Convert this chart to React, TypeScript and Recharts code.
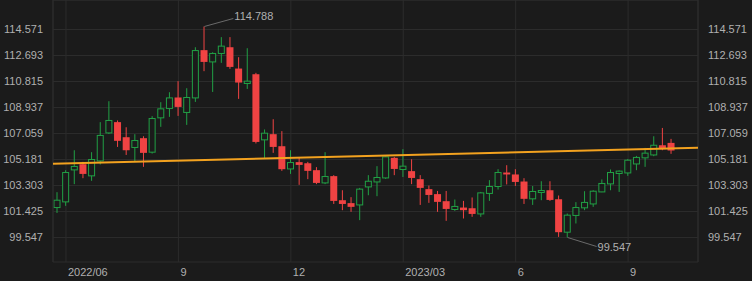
import React from 'react';
import { ComposedChart, Bar, XAxis, YAxis, CartesianGrid, ReferenceLine, ReferenceDot } from 'recharts';

const weeks = [
  '2022-05-27', '2022-06-03', '2022-06-10', '2022-06-17', '2022-06-24', '2022-07-01', '2022-07-08', '2022-07-15',
  '2022-07-22', '2022-07-29', '2022-08-05', '2022-08-12', '2022-08-19', '2022-08-26', '2022-09-02', '2022-09-09',
  '2022-09-16', '2022-09-23', '2022-09-30', '2022-10-07', '2022-10-14', '2022-10-21', '2022-10-28', '2022-11-04',
  '2022-11-11', '2022-11-18', '2022-11-25', '2022-12-02', '2022-12-09', '2022-12-16', '2022-12-23', '2022-12-30',
  '2023-01-06', '2023-01-13', '2023-01-20', '2023-01-27', '2023-02-03', '2023-02-10', '2023-02-17', '2023-02-24',
  '2023-03-03', '2023-03-10', '2023-03-17', '2023-03-24', '2023-03-31', '2023-04-07', '2023-04-14', '2023-04-21',
  '2023-04-28', '2023-05-05', '2023-05-12', '2023-05-19', '2023-05-26', '2023-06-02', '2023-06-09', '2023-06-16',
  '2023-06-23', '2023-06-30', '2023-07-07', '2023-07-14', '2023-07-21', '2023-07-28', '2023-08-04', '2023-08-11',
  '2023-08-18', '2023-08-25', '2023-09-01', '2023-09-08', '2023-09-15', '2023-09-22', '2023-09-29', '2023-10-06',
];

const opens = [
  101.71, 102.12, 104.43, 104.84, 104.00, 105.08, 107.10, 107.88, 106.79, 106.05, 106.72, 105.71,
  108.19, 108.87, 109.66, 108.58, 109.63, 113.08, 112.23, 112.84, 113.29, 111.75, 110.67, 111.34,
  106.60, 107.01, 106.14, 104.50, 104.99, 104.91, 104.41, 103.49, 103.98, 102.24, 102.03, 101.90,
  103.20, 103.56, 103.85, 105.30, 104.46, 104.34, 103.76, 103.04, 102.68, 102.17, 101.57, 101.71,
  101.66, 101.25, 102.73, 103.23, 104.24, 104.10, 103.59, 102.34, 102.80, 102.96, 102.31, 99.93,
  101.14, 101.69, 101.97, 102.84, 103.42, 104.17, 104.21, 104.86, 105.30, 105.51, 106.21, 106.38,
];
const highs = [
  102.82, 104.41, 105.85, 105.01, 105.71, 107.88, 109.39, 108.00, 107.51, 107.01, 106.86, 108.31,
  109.32, 110.04, 110.84, 110.33, 113.29, 114.788, 112.93, 114.02, 114.02, 112.57, 113.22, 111.44,
  107.35, 108.09, 107.23, 105.85, 105.30, 105.01, 104.63, 105.71, 104.05, 102.96, 102.46, 103.13,
  104.05, 104.70, 105.42, 105.37, 105.93, 105.20, 104.05, 103.30, 102.91, 102.91, 102.29, 102.19,
  102.44, 102.84, 103.69, 104.48, 104.77, 104.48, 103.83, 103.27, 103.61, 103.61, 102.58, 101.28,
  102.10, 102.89, 102.96, 103.74, 104.46, 104.39, 105.22, 105.44, 106.02, 106.86, 107.46, 106.67,
];
const lows = [
  101.32, 101.83, 103.40, 103.83, 103.64, 104.82, 107.03, 106.09, 105.51, 105.01, 104.65, 105.61,
  107.54, 108.26, 108.33, 107.68, 109.34, 111.56, 110.06, 112.16, 111.73, 109.56, 110.28, 106.34,
  105.25, 105.66, 104.36, 104.14, 103.35, 103.76, 103.40, 103.40, 101.97, 101.52, 101.40, 100.80,
  102.60, 102.53, 103.78, 104.05, 103.92, 103.40, 101.90, 102.05, 101.40, 100.75, 101.47, 100.92,
  101.04, 101.04, 102.19, 103.01, 103.38, 103.27, 101.97, 101.90, 102.24, 102.19, 99.59, 99.547,
  100.56, 101.52, 101.76, 102.82, 102.96, 102.84, 104.00, 104.41, 104.65, 105.42, 105.85, 105.59,
];
const closes = [
  102.24, 104.24, 104.68, 104.14, 105.18, 106.92, 108.00, 106.53, 105.85, 106.55, 105.66, 108.14,
  108.84, 109.63, 108.98, 109.66, 113.05, 112.23, 112.84, 113.37, 111.87, 110.74, 110.84, 106.45,
  107.08, 106.09, 104.48, 104.96, 104.79, 104.36, 103.49, 103.95, 102.19, 101.97, 101.76, 103.04,
  103.61, 103.88, 105.37, 104.50, 104.70, 103.85, 103.13, 102.62, 102.12, 101.61, 101.79, 101.52,
  101.25, 102.77, 103.23, 104.24, 104.10, 103.56, 102.34, 102.87, 102.94, 102.26, 99.93, 101.16,
  101.71, 102.08, 102.89, 103.45, 104.24, 104.34, 105.13, 105.33, 105.64, 106.21, 105.93, 105.83,
];

const yTicks = [99.547, 101.425, 103.303, 105.181, 107.059, 108.937, 110.815, 112.693, 114.571];
const xTickIndex = [1, 14, 27, 40, 53, 66];
const xTickLabels = ['2022/06', '9', '12', '2023/03', '6', '9'];
const trendStart = 104.87;
const trendEnd = 106.03;

const BG = '#1b1b1b';
const GRID = '#2c2c2c';
const TEXT = '#b0b0b0';
const GREEN = '#21a045';
const RED = '#f04343';
const ORANGE = '#f3a21f';
const FONT = '"Liberation Sans", Arial, sans-serif';

const X_MIN = -0.5;
const X_MAX = 74.08;
const Y_MIN = 97.777;
const Y_MAX = 116.702;

const data = weeks.map((w, i) => ({
  i,
  week: w,
  open: opens[i],
  high: highs[i],
  low: lows[i],
  close: closes[i],
}));

let maxIdx = 0;
let minIdx = 0;
highs.forEach((h, i) => { if (h > highs[maxIdx]) maxIdx = i; });
lows.forEach((l, i) => { if (l < lows[minIdx]) minIdx = i; });

const Candle = (props: any) => {
  const { x, y, width, height, payload } = props;
  if (x == null || y == null || !payload) return <g />;
  const { open, close, high, low } = payload;
  const up = close >= open;
  const color = up ? GREEN : RED;
  const span = high - low;
  const ratio = span > 0 ? height / span : 0;
  const yOf = (v: number) => y + (high - v) * ratio;
  const cx = x + width / 2;
  const bodyW = 7;
  const top = yOf(Math.max(open, close));
  const bot = yOf(Math.min(open, close));
  const bh = Math.max(bot - top, 1);
  return (
    <g>
      <line x1={cx} x2={cx} y1={y} y2={y + height} stroke={color} strokeWidth={1} />
      {up ? (
        <rect x={cx - bodyW / 2 + 0.5} y={top} width={bodyW - 1} height={Math.max(bh, 1)} fill={BG} stroke={color} strokeWidth={1} />
      ) : (
        <rect x={cx - bodyW / 2} y={top} width={bodyW} height={bh} fill={color} stroke="none" />
      )}
    </g>
  );
};

const XTick = (p: any) => {
  const idx = xTickIndex.indexOf(p.payload.value);
  return (
    <text x={p.x + 2} y={p.y + 14} fill={TEXT} fontSize={11} fontFamily={FONT} textAnchor="start">
      {idx >= 0 ? xTickLabels[idx] : ''}
    </text>
  );
};

const MaxMark = (p: any) => (
  <g>
    <line x1={p.cx} y1={p.cy} x2={p.cx + 29} y2={p.cy - 8} stroke="#6a6a6a" strokeWidth={1} />
    <text x={p.cx + 30} y={p.cy - 6} fill={TEXT} fontSize={11} fontFamily={FONT}>
      {highs[maxIdx].toFixed(3)}
    </text>
  </g>
);

const MinMark = (p: any) => (
  <g>
    <line x1={p.cx} y1={p.cy} x2={p.cx + 29} y2={p.cy + 9} stroke="#6a6a6a" strokeWidth={1} />
    <text x={p.cx + 30} y={p.cy + 14} fill={TEXT} fontSize={11} fontFamily={FONT}>
      {lows[minIdx].toFixed(3)}
    </text>
  </g>
);

export default function App() {
  return (
    <div style={{ position: 'absolute', left: 0, top: 0, width: 752, height: 281, background: BG }}>
      <ComposedChart width={752} height={281} data={data} margin={{ top: 0, right: 0, bottom: 0, left: 0 }}>
        <CartesianGrid stroke={GRID} strokeWidth={1} />
        <XAxis
          dataKey="i"
          type="number"
          domain={[X_MIN, X_MAX]}
          allowDataOverflow
          ticks={xTickIndex}
          interval={0}
          axisLine={false}
          tickLine={false}
          tickSize={0}
          tickMargin={0}
          height={19}
          tick={<XTick />}
        />
        <YAxis
          yAxisId={0}
          orientation="left"
          width={53}
          domain={[Y_MIN, Y_MAX]}
          allowDataOverflow
          ticks={yTicks}
          interval={0}
          axisLine={false}
          tickLine={false}
          tickSize={0}
          tickMargin={10}
          tick={{ fill: TEXT, fontSize: 11, fontFamily: FONT }}
          tickFormatter={(v: number) => v.toFixed(3)}
        />
        <YAxis
          yAxisId="right"
          orientation="right"
          width={54}
          domain={[Y_MIN, Y_MAX]}
          allowDataOverflow
          ticks={yTicks}
          interval={0}
          axisLine={false}
          tickLine={false}
          tickSize={0}
          tickMargin={10}
          tick={{ fill: TEXT, fontSize: 11, fontFamily: FONT }}
          tickFormatter={(v: number) => v.toFixed(3)}
        />
        <ReferenceLine x={X_MIN} stroke={GRID} ifOverflow="visible" />
        <ReferenceLine x={X_MAX} stroke={GRID} ifOverflow="visible" />
        <ReferenceLine y={Y_MAX} stroke={GRID} ifOverflow="visible" />
        <Bar
          dataKey={(d: any) => [d.low, d.high]}
          shape={(p: any) => <Candle {...p} />}
          barSize={8}
          isAnimationActive={false}
        />
        <ReferenceLine
          segment={[{ x: X_MIN, y: trendStart }, { x: X_MAX, y: trendEnd }]}
          stroke={ORANGE}
          strokeWidth={2}
          ifOverflow="visible"
        />
        <ReferenceDot x={maxIdx} y={highs[maxIdx]} r={0} shape={(p: any) => <MaxMark {...p} />} ifOverflow="visible" />
        <ReferenceDot x={minIdx} y={lows[minIdx]} r={0} shape={(p: any) => <MinMark {...p} />} ifOverflow="visible" />
      </ComposedChart>
    </div>
  );
}
